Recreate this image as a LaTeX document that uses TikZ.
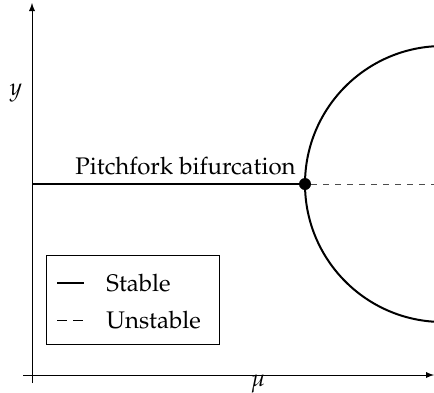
\documentclass[tikz,border=0pt]{standalone}
\usepackage[T1]{fontenc}
\usepackage{mathpazo}
\usepackage{tikz}
\usetikzlibrary{arrows,positioning}

\begin{document}
\begin{tikzpicture}[x=0.5pt, y=-0.5pt, font=\large, >=latex]
        \useasboundingbox (0,0) rectangle (434,392);
        % axes
        \coordinate (xstart) at (23,375);
        \coordinate (xend) at (434,375);
        \coordinate (ystart) at (32,383);
        \coordinate (yend) at (32,3);
        \draw[->, thin] (xstart) -- (xend);
        \draw[->, thin] (ystart) -- (yend);
        \node (mulabel) at (258,384) {$\mu$};
        \node (ylabel) at (16,93) {$y$};

        % branches
        \coordinate (left) at (32,184);
        \coordinate (right) at (434,184);
        \node[circle, fill=black, inner sep=0pt, minimum size=6pt] (bif) at (305,184) {};
        \draw[line width=1pt] (left) -- (bif);
        \draw[dashed, thin, black!70] (bif) -- (right);
        \begin{scope}
          \clip (0,0) rectangle (434,392);
          \draw[line width=1pt] (443,46) arc[start angle=270, end angle=90, radius=138];
        \end{scope}
        \node[anchor=base east, inner sep=0pt] (biflabel) at (296,174) {Pitchfork bifurcation};

        % legend
        \node[rectangle, draw, thin, minimum width=86.5pt, minimum height=44.5pt, anchor=north west] (legend) at (46,255) {};
        \coordinate (s1) at (57,283);
        \coordinate (s2) at (84,283);
        \coordinate (u1) at (57,320);
        \coordinate (u2) at (84,320);
        \draw[line width=1pt] (s1) -- (s2);
        \draw[dash pattern=on 5pt off 3pt, thin] (u1) -- (u2);
        \node[anchor=west, inner sep=0pt] (stable) at (106,283) {Stable};
        \node[anchor=west, inner sep=0pt] (unstable) at (106,320) {Unstable};
      \end{tikzpicture}
\end{document}
